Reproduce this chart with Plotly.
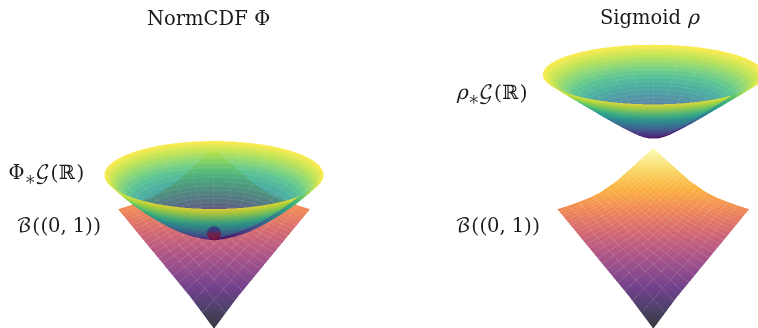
import numpy as np
import plotly.graph_objects as go

# ---- values (pixels) ----
titles = ["NormCDF Φ", "Sigmoid <i>ρ</i>"]
bowl_labels = ["Φ<sub>∗</sub>𝒢(ℝ)", "<i>ρ</i><sub>∗</sub>𝒢(ℝ)"]
base_label = "ℬ((0, 1))"

radius_knots = [0, .05, .1, .15, .2, .3, .4, .5, .6, .7, .8, .9, 1]
bowl_height_phi = [0, .008, .03, .055, .085, .15, .23, .33, .44, .56, .69, .84, 1]
bowl_height_rho = [0, .01, .035, .07, .115, .215, .32, .43, .545, .655, .77, .885, 1]
bowl_radius_px = [109, 110]
bowl_tilt_sin = [.31, .27]
bowl_rim_y_px = [175, 75]
bowl_tip_y_px = [238, 138]
bowl_center_x_px = [214, 653]
tip_spot = dict(y=233, r=7)

grid_steps = [0, .122, .217, .30, .37, .43, .485, .535, .58, .625, .665, .70, .735, .77, .80, .83, .86, .885, .91, .935, .955, .975, 1]
front_edge_t = [0, .25, .5, .75, 1]
front_edge_h = [0, 32, 61, 90, 119]
back_edge_t = [0, .1, .238, .35, .448, .622, .797, 1]
back_edge_h = [119, 122, 126.7, 131, 135.7, 147.3, 162.3, 180]
base_half_width_px = 95.5

SCALE_W = 163.2
EYE = 2.0
BASE_PUSH = 300
FLAT = dict(ambient=1, diffuse=0, specular=0, roughness=1, fresnel=0)
BASE_OPACITY = .78
BOWL_OPACITY = .8


def mesh_axis(knots, n):
    return np.interp(np.linspace(0, len(knots) - 1, n), np.arange(len(knots)), knots)


def grid_lines(X, Y, Z, step_i, step_j, lift, s, c, skip_i=0):
    Y, Z = Y - lift * c, Z + lift * s
    xs, ys, zs = [], [], []
    for i in range(skip_i, X.shape[0], step_i):
        xs += list(X[i, :]) + [None]; ys += list(Y[i, :]) + [None]; zs += list(Z[i, :]) + [None]
    for j in range(0, X.shape[1], step_j):
        xs += list(X[skip_i:, j]) + [None]; ys += list(Y[skip_i:, j]) + [None]; zs += list(Z[skip_i:, j]) + [None]
    return xs, ys, zs


def add_panel(fig, k, scene, profile):
    s = bowl_tilt_sin[k]
    c = np.sqrt(1 - s * s)
    R = bowl_radius_px[k]
    rim_up = 164 - bowl_rim_y_px[k]
    tip_up = 164 - bowl_tip_y_px[k]

    u = mesh_axis(grid_steps, (len(grid_steps) - 1) * 4 + 1)
    a, b = np.meshgrid(u, u, indexing="ij")
    F = lambda t: np.interp(t, front_edge_t, front_edge_h)
    G = lambda t: np.interp(t, back_edge_t, back_edge_h)
    H = ((1 - b) * F(a) + b * G(a) + (1 - a) * F(b) + a * G(b)
         - (a * (1 - b) * 119 + (1 - a) * b * 119 + a * b * 180))
    W = base_half_width_px
    X = (a - b) * W
    Y = (a + b - 1) * W
    Z = (H - 164 - Y * s) / c
    # moved along the line of sight only: same place on screen, always behind the bowl
    Y = Y + BASE_PUSH * c
    Z = Z - BASE_PUSH * s
    fig.add_trace(go.Surface(x=X, y=Y, z=Z, surfacecolor=H, cmin=0, cmax=180, colorscale="Inferno",
                             opacity=BASE_OPACITY, showscale=False, scene=scene, lighting=FLAT))
    xs, ys, zs = grid_lines(X, Y, Z, 4, 4, 2, s, c)
    fig.add_trace(go.Scatter3d(x=xs, y=ys, z=zs, mode="lines", line=dict(color="white", width=1),
                               opacity=.2, hoverinfo="skip", showlegend=False, scene=scene))

    r = mesh_axis(radius_knots, 61)
    for half, (t0, t1) in enumerate([(0, np.pi), (np.pi, 2 * np.pi)]):
        th = np.linspace(t0, t1, 49)
        rr, tt = np.meshgrid(r, th, indexing="ij")
        h = np.interp(rr, radius_knots, profile)
        BX = R * rr * np.cos(tt)
        BY = R * rr * np.sin(tt)
        BZ = (tip_up + (rim_up - tip_up) * h) / c
        fig.add_trace(go.Surface(x=BX, y=BY, z=BZ, surfacecolor=h, cmin=0, cmax=1, colorscale="Viridis",
                                 opacity=BOWL_OPACITY, showscale=False, scene=scene, lighting=FLAT))
        if half == 0:
            xs, ys, zs = grid_lines(BX, BY, BZ, 2, 4, 2, s, c, skip_i=14)
            fig.add_trace(go.Scatter3d(x=xs, y=ys, z=zs, mode="lines", line=dict(color="white", width=1),
                                       opacity=.12, hoverinfo="skip", showlegend=False, scene=scene))

    if k == 0:
        sr, st = np.meshgrid(np.linspace(0, tip_spot["r"], 8), np.linspace(0, 2 * np.pi, 37), indexing="ij")
        up = sr * np.sin(st)
        centre = 164 - tip_spot["y"]
        # disc facing the camera, in front of the bowl
        DX = sr * np.cos(st)
        DY = (centre + up) * s - 100 * c
        DZ = (centre + up) * c + 100 * s
        fig.add_trace(go.Surface(x=DX, y=DY, z=DZ, surfacecolor=up, cmin=-7, cmax=7,
                                 colorscale=[[0, "#7e1238"], [.45, "#7e1238"], [.7, "#3a2a78"], [1, "#3a2a78"]],
                                 opacity=.78, showscale=False, scene=scene, lighting=FLAT))


def scene_layout(x0, x1, cx, sin_el):
    width = x1 - x0
    xr = [x0 - cx, x1 - cx]
    hide = dict(visible=False, showgrid=False, zeroline=False, showspikes=False)
    c = np.sqrt(1 - sin_el ** 2)
    return dict(
        domain=dict(x=[x0 / 758, x1 / 758], y=[0, 1]),
        xaxis=dict(range=xr, **hide),
        yaxis=dict(range=[-400, 400], **hide),
        zaxis=dict(range=[-400, 400], **hide),
        aspectmode="manual",
        aspectratio=dict(x=width / SCALE_W, y=800 / SCALE_W, z=800 / SCALE_W),
        bgcolor="white",
        camera=dict(eye=dict(x=0, y=-EYE * c, z=EYE * sin_el), center=dict(x=0, y=0, z=0),
                    up=dict(x=0, y=0, z=1), projection=dict(type="orthographic")),
    )


fig = go.Figure()
add_panel(fig, 0, "scene", bowl_height_phi)
add_panel(fig, 1, "scene2", bowl_height_rho)

font = dict(family="DejaVu Math TeX Gyre, Liberation Serif, DejaVu Serif", size=19.5, color="#1a1a1a")
notes = [(209, 19, titles[0]), (650, 19, titles[1]), (46, 174.5, bowl_labels[0]),
         (59, 227, base_label), (492, 95, bowl_labels[1]), (498, 227, base_label)]
ann = [dict(x=x / 758, y=1 - y / 328, xref="paper", yref="paper", text=t, showarrow=False, font=font,
            xanchor="center", yanchor="middle") for x, y, t in notes]

fig.update_layout(width=758, height=328, margin=dict(l=0, r=0, t=0, b=0), paper_bgcolor="white",
                  showlegend=False, annotations=ann,
                  scene=scene_layout(0, 428, bowl_center_x_px[0], bowl_tilt_sin[0]),
                  scene2=scene_layout(428, 758, bowl_center_x_px[1], bowl_tilt_sin[1]))
fig.write_html("out.html", config=dict(displayModeBar=False), post_script="document.body.style.margin='0';")
